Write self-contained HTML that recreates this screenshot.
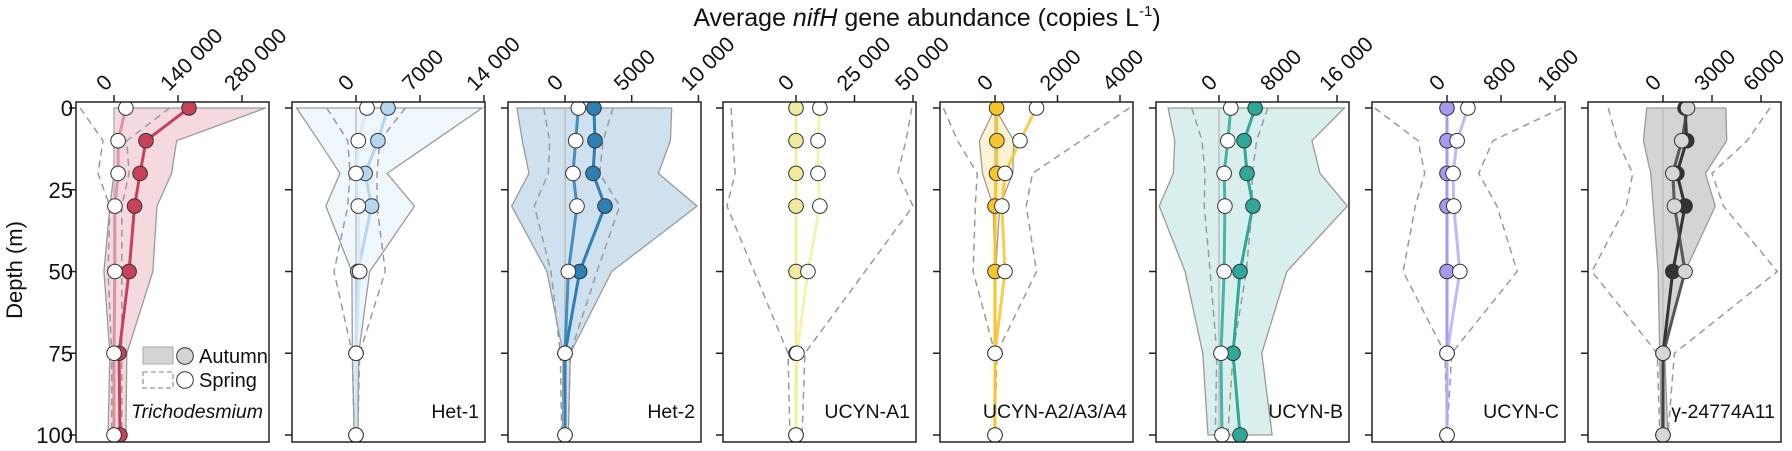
<!DOCTYPE html>
<html><head><meta charset="utf-8"><style>
html,body{margin:0;padding:0;background:#fff;}
svg{display:block;font-family:"Liberation Sans",Arial,sans-serif;}
</style></head><body>
<svg id="chart" width="1792" height="451" viewBox="0 0 1792 451">
<text x="927" y="26" font-size="25" text-anchor="middle" fill="#111">Average <tspan font-style="italic">nifH</tspan> gene abundance (copies L<tspan font-size="15" dy="-10">-1</tspan><tspan dy="10">)</tspan></text>
<text transform="translate(22,270) rotate(-90)" font-size="22" text-anchor="middle" fill="#111">Depth (m)</text>
<g id="panels"></g>
</svg>
<script>
const depths = [0, 10, 20, 30, 50, 75, 100];
const depthTicks = [0, 25, 50, 75, 100];
const panelNames = ["Trichodesmium","Het-1","Het-2","UCYN-A1","UCYN-A2/A3/A4","UCYN-B","UCYN-C","γ-24774A11"];
const tickValues = [[0,140000,280000],[0,7000,14000],[0,5000,10000],[0,25000,50000],[0,2000,4000],[0,8000,16000],[0,800,1600],[0,3000,6000]];
const tickLabels = [["0","140 000","280 000"],["0","7000","14 000"],["0","5000","10 000"],["0","25 000","50 000"],["0","2000","4000"],["0","8000","16 000"],["0","800","1600"],["0","3000","6000"]];
const autumnMean = [
 [164000,70000,57000,45000,33000,11000,13000],
 [3500,2400,1000,1700,200,0,0],
 [2170,2250,2100,3000,1100,0,0],
 [0,0,0,0,0,0,0],
 [50,60,50,0,0,0,0],
 [4900,3400,3800,4600,2850,1900,2850],
 [0,0,0,0,0,0,0],
 [1350,1450,850,1350,600,0,0]];
const springMean = [
 [26000,9000,9000,2000,2000,0,0],
 [1200,250,0,250,400,0,0],
 [1000,800,600,900,250,0,0],
 [10200,9400,9400,10200,5100,400,0],
 [1330,800,320,220,320,0,0],
 [1600,1200,700,800,700,270,400],
 [310,150,90,100,190,0,0],
 [1500,1150,600,700,1350,0,0]];
const autumnLow = [
 [0,0,0,-9000,-22000,-9000,-13000],
 [-6500,-4100,-1750,-3300,-450,-400,-200],
 [-3600,-3200,-2700,-4000,-1350,-150,-200],
 [0,0,0,0,0,0,0],
 [0,-500,-400,-60,0,0,0],
 [-6900,-6000,-6200,-8100,-4600,-2200,-1500],
 [0,0,0,0,0,0,0],
 [-1000,-1200,-750,-600,-300,-200,-100]];
const autumnHigh = [
 [332000,137000,126000,94000,85000,28000,26000],
 [13800,8600,3400,6400,1500,300,200],
 [8000,7900,7000,9900,3500,400,250],
 [0,0,0,0,0,0,0],
 [0,600,570,150,20,0,0],
 [17000,12600,13700,17400,9200,5800,7200],
 [0,0,0,0,0,0,0],
 [3850,3900,2600,3200,1350,100,300]];
const springLow = [
 [-74000,-24000,-35000,-9000,-13000,-5000,-5000],
 [-3200,-900,-650,-900,-2400,-400,-200],
 [-1600,-1150,-1250,-2300,-1050,-350,-250],
 [-27700,-27000,-26000,-29500,-17900,-3400,-2600],
 [-1650,-1200,-570,-630,-700,0,0],
 [-3700,-2300,-1900,-2000,-1200,-300,-500],
 [-1070,-430,-330,-470,-650,-30,0],
 [-3350,-2800,-1850,-2250,-4350,-350,-200]];
const springHigh = [
 [122000,28000,33000,17000,17000,17000,17000],
 [5400,2600,2300,2300,3200,400,200],
 [3600,2850,2600,4100,2400,400,250],
 [49500,47000,43500,50000,29500,3800,2600],
 [4300,2750,1200,1000,1330,60,0],
 [6600,5100,4500,4500,3700,1900,1200],
 [1700,680,470,740,1040,70,0],
 [6550,5150,3000,3700,7000,700,300]];
// styling / layout (not data)
const lineCol = ["#c8415a","#b5d6f0","#2e7fb5","#f3eea2","#f7c52a","#2fa89a","#a898f0","#333333"];
const ptCol   = ["#c8415a","#b5d6f0","#2e7fb5","#f0ea9e","#f7c52a","#2fa89a","#a898f0","#333333"];
const bandCol = ["rgba(200,65,90,0.2)","rgba(181,214,240,0.22)","rgba(46,127,181,0.23)","rgba(240,234,158,0.4)","rgba(247,197,42,0.2)","rgba(47,168,154,0.18)","rgba(168,152,240,0.2)","rgba(0,0,0,0.17)"];
const springPt = ["#fff","#fff","#fff","#fff","#fff","#fff","#fff","#d6d6d6"];
const springLine = ["#d88a99","#d5e7f5","#2e7fb5","#f3eea2","#f7c52a","#2fa89a","#b8aaf5","#444"];
const panelLeft = [76,292,508,723,940,1156,1372,1588];
const zeroOff = [38,64,57,73,55,63,75,75];
const pxPer = [64/140000,64/7000,66.7/5000,58.5/25000,62.5/2000,59/8000,54/800,49/3000];
const W = 193, TOP = 102, BOT = 442;
const NS = "http://www.w3.org/2000/svg";
const yScale = d => 108 + d * 3.27;
function mk(tag, attrs, parent){const e=document.createElementNS(NS,tag);for(const k in attrs)e.setAttribute(k,attrs[k]);parent.appendChild(e);return e;}
const root = document.getElementById("panels");
for (let p = 0; p < 8; p++) {
  const L = panelLeft[p];
  const xScale = v => L + zeroOff[p] + v * pxPer[p];
  const g = mk("g", {}, root);
  
  
  const clip = mk("clipPath", {id:"c"+p}, g);
  mk("rect", {x:L, y:TOP, width:W, height:BOT-TOP}, clip);
  const inner = mk("g", {"clip-path":"url(#c"+p+")"}, g);
  let pts = depths.map((d,i)=>xScale(autumnHigh[p][i])+","+yScale(d));
  pts = pts.concat(depths.map((d,i)=>xScale(autumnLow[p][i])+","+yScale(d)).reverse());
  const band = mk("polygon", {points:pts.join(" "), fill:bandCol[p], stroke:"#9a9a9a", "stroke-width":1.3}, inner);
  
  
  mk("line", {x1:xScale(0), x2:xScale(0), y1:yScale(0), y2:yScale(100), stroke:"#bdbdbd", "stroke-width":1.5}, inner);
  [springLow[p], springHigh[p]].forEach((arr, k) => {
    const pl = mk("polyline", {points:depths.map((d,i)=>xScale(arr[i])+","+yScale(d)).join(" "), fill:"none", stroke:"#9a9a9a", "stroke-width":1.5, "stroke-dasharray":"7,5"}, inner);
    
    
  });
  const al = mk("polyline", {points:depths.map((d,i)=>xScale(autumnMean[p][i])+","+yScale(d)).join(" "), fill:"none", stroke:lineCol[p], "stroke-width":3}, inner);
  
  
  const sl = mk("polyline", {points:depths.map((d,i)=>xScale(springMean[p][i])+","+yScale(d)).join(" "), fill:"none", stroke:springLine[p], "stroke-width":3, opacity:0.85}, inner);
  
  
  depths.forEach((d,i)=>{
    const c = mk("circle", {cx:xScale(autumnMean[p][i]), cy:yScale(d), r:7.3, fill:ptCol[p], stroke:"#333", "stroke-width":1}, inner);
    
    
  });
  depths.forEach((d,i)=>{
    const c = mk("circle", {cx:xScale(springMean[p][i]), cy:yScale(d), r:7.3, fill:springPt[p], stroke:"#333", "stroke-width":1}, inner);
    
    
  });
  const fr = mk("rect", {x:L, y:TOP, width:W, height:BOT-TOP, fill:"none", stroke:"#222", "stroke-width":1.5}, g);
  
  
  depthTicks.forEach(d=>{
    mk("line", {x1:L-7, x2:L, y1:yScale(d), y2:yScale(d), stroke:"#222", "stroke-width":1.5}, g);
    if (p === 0) {
      const t = mk("text", {x:L-3, y:yScale(d)+8, "font-size":22, "text-anchor":"end", fill:"#111"}, g);
      t.textContent = d;
      
      
    }
  });
  tickValues[p].forEach((v,k)=>{
    const x = xScale(v);
    mk("line", {x1:x, x2:x, y1:TOP-7, y2:TOP, stroke:"#222", "stroke-width":1.5}, g);
    const t = mk("text", {transform:"translate("+(x-9)+","+(TOP-10)+") rotate(-45)", "font-size":21.5, fill:"#111"}, g);
    t.textContent = tickLabels[p][k];
    
    
  });
  const nm = mk("text", {x:L+W-6, y:418, "font-size":19.5, "text-anchor":"end", fill:"#111", "font-style": p===0?"italic":"normal"}, g);
  nm.textContent = panelNames[p];
  
  
}
const lg = mk("g", {}, root);


mk("rect", {x:143, y:347, width:30, height:17, fill:"#d4d4d4", stroke:"#aaa", "stroke-width":1}, lg);
mk("circle", {cx:185, cy:356, r:8.3, fill:"#d4d4d4", stroke:"#333", "stroke-width":1}, lg);
const t1 = mk("text", {x:199, y:363, "font-size":20, fill:"#111"}, lg); t1.textContent = "Autumn";


mk("rect", {x:143, y:372, width:30, height:16, fill:"none", stroke:"#999", "stroke-width":1.3, "stroke-dasharray":"5,3"}, lg);
mk("circle", {cx:185, cy:380, r:8.3, fill:"#fff", stroke:"#333", "stroke-width":1}, lg);
const t2 = mk("text", {x:199, y:387, "font-size":20, fill:"#111"}, lg); t2.textContent = "Spring";


</script>
</body></html>
